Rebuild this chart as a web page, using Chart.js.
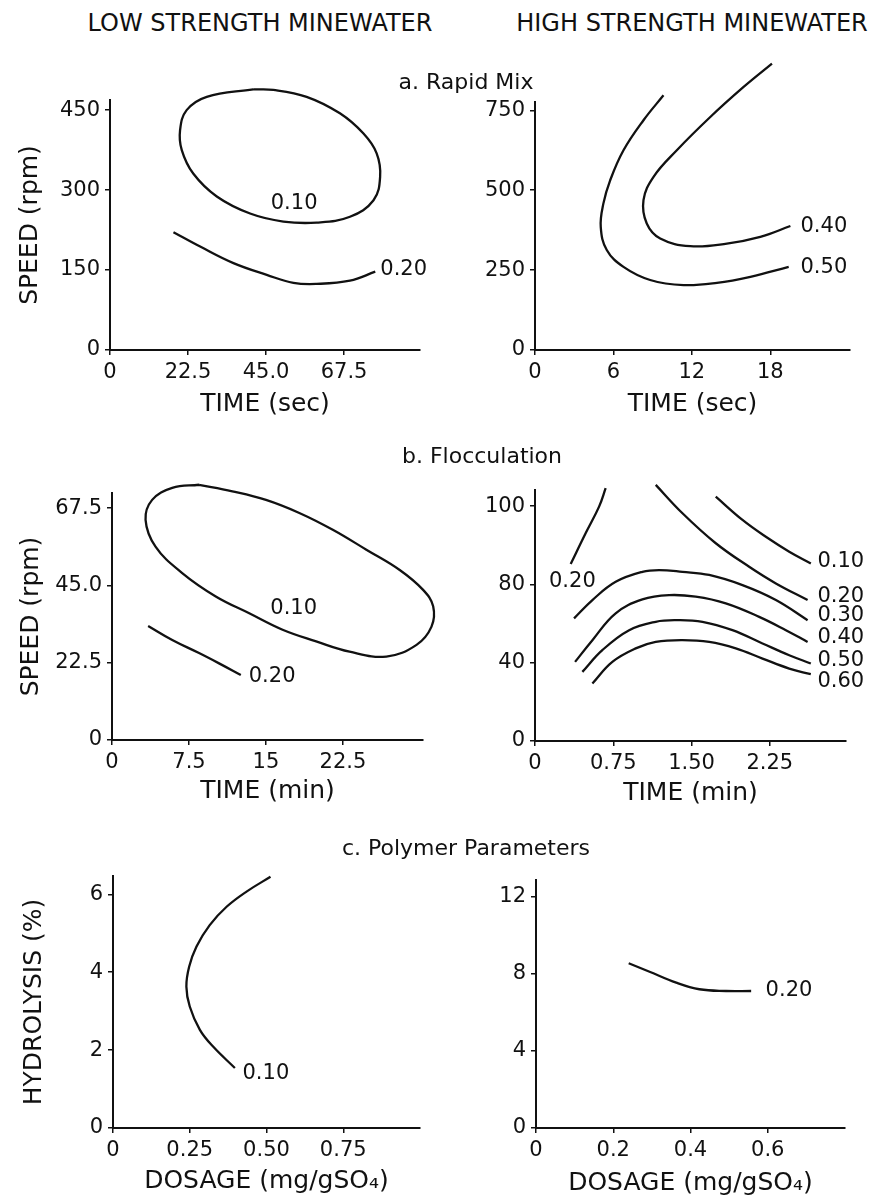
<!DOCTYPE html>
<html>
<head>
<meta charset="utf-8">
<script src="https://cdn.jsdelivr.net/npm/chart.js@4.4.1/dist/chart.umd.min.js"></script>
<style>
body { margin: 0; background: #fff; width: 886px; height: 1201px; position: relative; overflow: hidden; font-family: 'DejaVu Sans', sans-serif; color: #111; }
canvas { position: absolute; }
.txt { position: absolute; white-space: nowrap; transform: translate(-50%, -50%); z-index: 2; }
.hdr { font-size: 24px; }
.sec { font-size: 22px; }
</style>
</head>
<body>
<div class="txt hdr" style="left:260px; top:23px">LOW STRENGTH MINEWATER</div>
<div class="txt hdr" style="left:692px; top:23px">HIGH STRENGTH MINEWATER</div>
<div class="txt sec" style="left:466px; top:81px">a. Rapid Mix</div>
<div class="txt sec" style="left:482px; top:455px">b. Flocculation</div>
<div class="txt sec" style="left:466px; top:847px">c. Polymer Parameters</div>

<canvas id="aLow"></canvas>
<canvas id="aHigh"></canvas>
<canvas id="bLow"></canvas>
<canvas id="bHigh"></canvas>
<canvas id="cLow"></canvas>
<canvas id="cHigh"></canvas>

<script>
// ---- a. Rapid Mix, low strength ----
const aLowXTicks = [0, 22.5, 45, 67.5];
const aLowXLabels = ['0', '22.5', '45.0', '67.5'];
const aLowYTicks = [0, 150, 300, 450];
const aLow10x = [41.3, 27.9, 22.1, 20.2, 20.7, 24.0, 30.8, 40.4, 50.0, 59.6, 69.2, 76.0, 77.9, 76.9, 73.1, 66.3, 56.7, 47.1, 41.3];
const aLow10y = [489, 475, 450, 412, 375, 331, 288, 256, 241, 239, 250, 281, 325, 369, 406, 444, 475, 488, 489];
const aLow20x = [18.3, 26.0, 35.6, 45.2, 52.9, 59.6, 69.2, 76.5];
const aLow20y = [221, 194, 163, 141, 126, 124, 130, 147];
const aLowLblText = ['0.10', '0.20'];
const aLowLblX = [53.1, 84.7];
const aLowLblY = [275, 150];

// ---- a. Rapid Mix, high strength ----
const aHighXTicks = [0, 6, 12, 18];
const aHighYTicks = [0, 250, 500, 750];
const aHigh50x = [9.83, 8.30, 6.77, 5.75, 5.23, 5.03, 5.49, 6.77, 8.81, 11.37, 13.92, 16.48, 19.41];
const aHigh50y = [797, 719, 625, 531, 458, 385, 313, 260, 219, 203, 210, 229, 260];
const aHigh40x = [18.13, 15.96, 13.41, 10.85, 9.07, 8.30, 8.55, 9.58, 11.88, 14.68, 17.24, 19.54];
const aHigh40y = [896, 823, 729, 625, 542, 469, 396, 349, 325, 333, 354, 388];
const aHighLblText = ['0.40', '0.50'];
const aHighLblX = [22.1, 22.1];
const aHighLblY = [387, 258];

// ---- b. Flocculation, low strength ----
const bLowXTicks = [0, 7.5, 15, 22.5];
const bLowXLabels = ['0', '7.5', '15', '22.5'];
const bLowYTicks = [0, 22.5, 45, 67.5];
const bLowYLabels = ['0', '22.5', '45.0', '67.5'];
const bLow10x = [8.48, 11.73, 15.0, 18.25, 21.51, 24.78, 28.03, 30.31, 31.29, 31.13, 29.67, 26.73, 23.14, 19.89, 16.62, 13.37, 10.11, 6.84, 4.24, 3.27, 3.91, 5.87, 8.48];
const bLow10y = [74.3, 72.4, 69.9, 66.1, 61.2, 55.4, 49.5, 43.7, 38.9, 33.0, 27.7, 24.3, 25.7, 28.7, 32.1, 36.9, 41.8, 48.6, 56.3, 64.1, 69.9, 73.4, 74.3];
const bLow20x = [3.52, 5.87, 8.48, 10.43, 12.55];
const bLow20y = [33.2, 29.1, 25.3, 22.3, 18.9];
const bLowLblText = ['0.10', '0.20'];
const bLowLblX = [17.7, 15.6];
const bLowLblY = [38.4, 18.4];

// ---- b. Flocculation, high strength ----
const bHighXTicks = [0, 0.75, 1.5, 2.25];
const bHighXLabels = ['0', '0.75', '1.50', '2.25'];
const bHighYTicks = [0, 40, 80, 120];
const bHighYLabels = ['0', '40', '80', '100'];
const bHigh20ax = [0.342, 0.485, 0.614, 0.677];
const bHigh20ay = [90.4, 106.1, 119.7, 129.1];
const bHigh10x = [1.732, 1.988, 2.212, 2.436, 2.643];
const bHigh10y = [124.8, 112.9, 104.3, 96.7, 90.7];
const bHigh20x = [1.157, 1.413, 1.732, 2.052, 2.308, 2.612];
const bHigh20y = [130.8, 116.3, 101.0, 89.0, 80.5, 72.0];
const bHigh30x = [0.374, 0.550, 0.773, 1.029, 1.189, 1.413, 1.669, 1.988, 2.308, 2.612];
const bHigh30y = [62.6, 72.0, 81.3, 86.4, 87.3, 86.4, 84.8, 79.6, 72.0, 61.7];
const bHigh40x = [0.384, 0.550, 0.773, 1.029, 1.285, 1.540, 1.828, 2.148, 2.404, 2.612];
const bHigh40y = [40.4, 51.5, 65.2, 72.3, 74.5, 73.7, 70.3, 63.4, 56.6, 50.6];
const bHigh50x = [0.454, 0.645, 0.902, 1.157, 1.349, 1.605, 1.892, 2.180, 2.436, 2.643];
const bHigh50y = [35.3, 46.4, 56.6, 60.9, 61.7, 60.9, 56.6, 49.8, 43.8, 39.6];
const bHigh60x = [0.550, 0.741, 0.965, 1.157, 1.413, 1.669, 1.924, 2.180, 2.436, 2.643];
const bHigh60y = [29.4, 40.4, 47.3, 50.6, 51.5, 50.6, 47.3, 42.1, 37.0, 34.1];
const bHighLblText = ['0.20', '0.10', '0.20', '0.30', '0.40', '0.50', '0.60'];
const bHighLblX = [0.358, 2.93, 2.93, 2.93, 2.93, 2.93, 2.93];
const bHighLblY = [81.3, 91.9, 74.0, 63.9, 52.9, 41.3, 30.2];

// ---- c. Polymer Parameters, low strength ----
const cLowXTicks = [0, 0.25, 0.5, 0.75];
const cLowXLabels = ['0', '0.25', '0.50', '0.75'];
const cLowYTicks = [0, 2, 4, 6];
const cLow10x = [0.513, 0.435, 0.370, 0.315, 0.272, 0.248, 0.239, 0.250, 0.283, 0.326, 0.397];
const cLow10y = [6.45, 6.07, 5.68, 5.21, 4.66, 4.14, 3.63, 3.12, 2.52, 2.09, 1.54];
const cLowLblText = ['0.10'];
const cLowLblX = [0.498];
const cLowLblY = [1.41];

// ---- c. Polymer Parameters, high strength ----
const cHighXTicks = [0, 0.2, 0.4, 0.6];
const cHighXLabels = ['0', '0.2', '0.4', '0.6'];
const cHighYTicks = [0, 4, 8, 12];
const cHigh20x = [0.240, 0.294, 0.363, 0.423, 0.492, 0.557];
const cHigh20y = [8.55, 8.11, 7.54, 7.20, 7.11, 7.11];
const cHighLblText = ['0.20'];
const cHighLblX = [0.655];
const cHighLblY = [7.13];

const FONTE = "'DejaVu Sans', sans-serif";
const PRETO = '#111';

function pontos(xs, ys) {
    return xs.map((x, i) => ({ x: x, y: ys[i] }));
}

function curva(xs, ys) {
    return {
        data: pontos(xs, ys),
        showLine: true,
        borderColor: PRETO,
        borderWidth: 2.3,
        pointRadius: 0,
        tension: 0.4,
        clip: false
    };
}

function eixo(min, max, ticks, labels, afterFitFn, title) {
    return {
        type: 'linear',
        min: min,
        max: max,
        afterBuildTicks: (s) => { s.ticks = ticks.map(v => ({ value: v })); },
        afterFit: afterFitFn,
        border: { display: true, color: PRETO, width: 2 },
        grid: { drawOnChartArea: false, drawTicks: true, tickLength: 5, color: PRETO, lineWidth: 1.5 },
        ticks: {
            color: PRETO,
            padding: 5,
            font: { family: FONTE, size: 21 },
            callback: (v, i) => labels[i]
        },
        title: title
    };
}

// box = canvas on page, area = chart area on page
function painel(id, box, area, x, y, series, lbl) {
    const cv = document.getElementById(id);
    cv.width = box.w;
    cv.height = box.h;
    cv.style.left = box.left + 'px';
    cv.style.top = box.top + 'px';

    const yWidth = area.left - box.left;
    const xHeight = box.top + box.h - area.bottom;

    const xTitle = { display: true, text: x.title, color: PRETO, font: { family: FONTE, size: 25 }, padding: { top: 0, bottom: x.titlePad } };
    const yTitle = y.title
        ? { display: true, text: y.title, color: PRETO, font: { family: FONTE, size: 25 }, padding: { top: y.titlePad, bottom: 0 } }
        : { display: false };

    new Chart(cv, {
        type: 'scatter',
        data: { datasets: series.map(s => curva(s[0], s[1])) },
        options: {
            responsive: false,
            animation: false,
            devicePixelRatio: 1,
            layout: { padding: { left: 0, top: area.top - box.top, right: box.left + box.w - area.right, bottom: 0 } },
            plugins: { legend: { display: false }, tooltip: { enabled: false } },
            scales: {
                x: eixo(0, x.max, x.ticks, x.labels, s => { s.height = xHeight; }, xTitle),
                y: eixo(0, y.max, y.ticks, y.labels, s => { s.width = yWidth; }, yTitle)
            }
        },
        plugins: [{
            id: 'rotulos',
            afterDatasetsDraw(chart) {
                const ctx = chart.ctx;
                ctx.save();
                ctx.font = '21px ' + FONTE;
                ctx.fillStyle = PRETO;
                ctx.textAlign = 'center';
                ctx.textBaseline = 'middle';
                lbl.text.forEach((t, i) => {
                    ctx.fillText(t, chart.scales.x.getPixelForValue(lbl.x[i]), chart.scales.y.getPixelForValue(lbl.y[i]));
                });
                ctx.restore();
            }
        }]
    });
}

painel('aLow',
    { left: 0, top: 40, w: 443, h: 380 }, { left: 110, top: 100, right: 420, bottom: 350 },
    { max: 89.4, ticks: aLowXTicks, labels: aLowXLabels, title: 'TIME (sec)', titlePad: 1 },
    { max: 469, ticks: aLowYTicks, labels: aLowYTicks.map(String), title: 'SPEED (rpm)', titlePad: 15 },
    [[aLow10x, aLow10y], [aLow20x, aLow20y]],
    { text: aLowLblText, x: aLowLblX, y: aLowLblY });

painel('aHigh',
    { left: 443, top: 40, w: 443, h: 380 }, { left: 535, top: 102, right: 850, bottom: 350 },
    { max: 24.1, ticks: aHighXTicks, labels: aHighXTicks.map(String), title: 'TIME (sec)', titlePad: 1 },
    { max: 776, ticks: aHighYTicks, labels: aHighYTicks.map(String) },
    [[aHigh50x, aHigh50y], [aHigh40x, aHigh40y]],
    { text: aHighLblText, x: aHighLblX, y: aHighLblY });

painel('bLow',
    { left: 0, top: 430, w: 443, h: 380 }, { left: 112, top: 493, right: 423, bottom: 740 },
    { max: 30.3, ticks: bLowXTicks, labels: bLowXLabels, title: 'TIME (min)', titlePad: 4 },
    { max: 71.9, ticks: bLowYTicks, labels: bLowYLabels, title: 'SPEED (rpm)', titlePad: 16 },
    [[bLow10x, bLow10y], [bLow20x, bLow20y]],
    { text: bLowLblText, x: bLowLblX, y: bLowLblY });

painel('bHigh',
    { left: 443, top: 430, w: 443, h: 380 }, { left: 535, top: 490, right: 846, bottom: 741 },
    { max: 2.98, ticks: bHighXTicks, labels: bHighXLabels, title: 'TIME (min)', titlePad: 2 },
    { max: 128.2, ticks: bHighYTicks, labels: bHighYLabels },
    [[bHigh20ax, bHigh20ay], [bHigh10x, bHigh10y], [bHigh20x, bHigh20y], [bHigh30x, bHigh30y], [bHigh40x, bHigh40y], [bHigh50x, bHigh50y], [bHigh60x, bHigh60y]],
    { text: bHighLblText, x: bHighLblX, y: bHighLblY });

painel('cLow',
    { left: 0, top: 820, w: 443, h: 381 }, { left: 113, top: 876, right: 420, bottom: 1128 },
    { max: 1.0, ticks: cLowXTicks, labels: cLowXLabels, title: 'DOSAGE (mg/gSO\u2084)', titlePad: 5 },
    { max: 6.47, ticks: cLowYTicks, labels: cLowYTicks.map(String), title: 'HYDROLYSIS (%)', titlePad: 19 },
    [[cLow10x, cLow10y]],
    { text: cLowLblText, x: cLowLblX, y: cLowLblY });

painel('cHigh',
    { left: 443, top: 820, w: 443, h: 381 }, { left: 536, top: 880, right: 845, bottom: 1128 },
    { max: 0.80, ticks: cHighXTicks, labels: cHighXLabels, title: 'DOSAGE (mg/gSO\u2084)', titlePad: 3 },
    { max: 12.87, ticks: cHighYTicks, labels: cHighYTicks.map(String) },
    [[cHigh20x, cHigh20y]],
    { text: cHighLblText, x: cHighLblX, y: cHighLblY });
</script>
</body>
</html>
